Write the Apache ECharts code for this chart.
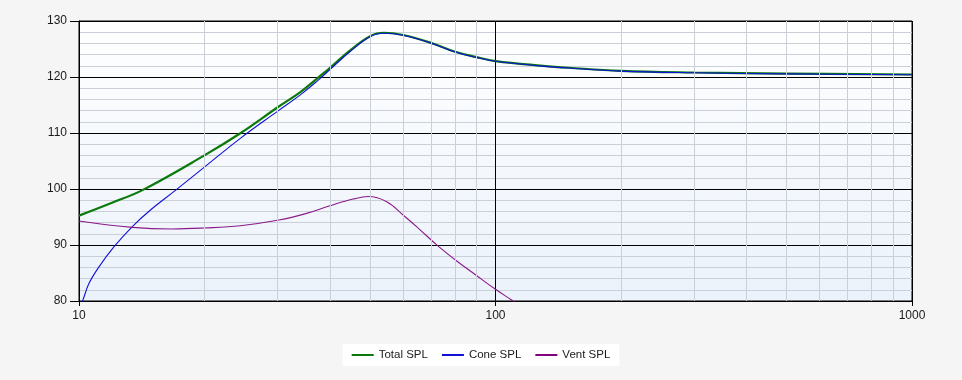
<!DOCTYPE html>
<html>
<head>
<meta charset="utf-8">
<script src="https://cdn.jsdelivr.net/npm/echarts@6/dist/echarts.min.js"></script>
<style>
html,body{margin:0;padding:0;background:#f5f5f5;}
#chart{width:962px;height:380px;}
</style>
</head>
<body>
<div id="chart"></div>
<script>
// ---- data ----
const seriesNames = ['Total SPL', 'Cone SPL', 'Vent SPL'];

const totalFreq = [10, 12, 14.2, 20, 24.4, 30, 34, 37.6, 40, 44.7, 50, 54, 60, 70, 80, 90, 100, 130, 150, 200, 300, 500, 1000];
const totalSPL  = [95.25, 97.55, 99.8, 106.0, 109.95, 114.6, 117.3, 119.95, 121.6, 124.7, 127.3, 127.9, 127.5, 126.1, 124.5, 123.55, 122.85, 122.0, 121.65, 121.1, 120.8, 120.6, 120.45];

const coneFreq = [10, 10.22, 10.57, 11.17, 12.14, 13.43, 14.87, 17.07, 20, 24.4, 30, 34, 37.6, 40, 44.7, 50, 54, 60, 70, 80, 90, 100, 130, 150, 200, 300, 500, 1000];
const coneSPL  = [78.6, 80.2, 83.15, 86.1, 89.7, 93.3, 96.3, 99.8, 103.9, 109.05, 113.9, 116.8, 119.5, 121.3, 124.5, 127.2, 127.8, 127.45, 126.05, 124.45, 123.5, 122.8, 121.95, 121.6, 121.05, 120.75, 120.55, 120.4];

const ventFreq = [10, 13.43, 16.74, 20, 24.4, 30.2, 35.2, 40, 45.5, 49.5, 54.8, 60, 65.3, 72.6, 80.7, 90, 100, 109.3, 118];
const ventSPL  = [94.3, 93.15, 92.86, 93.04, 93.45, 94.46, 95.65, 97.0, 98.2, 98.65, 97.73, 95.36, 92.98, 89.88, 87.14, 84.55, 82.09, 80.18, 78.5];

const minorGridFreqs = [20, 30, 40, 50, 60, 70, 80, 90, 200, 300, 400, 500, 600, 700, 800, 900];

function pairs(xs, ys) { return xs.map((x, i) => [x, ys[i]]); }

const chart = echarts.init(document.getElementById('chart'), null, {renderer: 'canvas'});
const font = "'Liberation Sans', Arial, sans-serif";

chart.setOption({
  animation: false,
  backgroundColor: '#f5f5f5',
  textStyle: {fontFamily: font},
  grid: {
    left: 79, right: 50, top: 21, bottom: 79, z: 0,
    show: true, borderColor: '#000', borderWidth: 1,
    backgroundColor: {
      type: 'linear', x: 0, y: 0, x2: 0, y2: 1,
      colorStops: [{offset: 0, color: '#ffffff'}, {offset: 1, color: '#ebf2fb'}]
    }
  },
  legend: {
    data: seriesNames,
    left: 'center', top: 344,
    backgroundColor: '#ffffff',
    padding: [5, 9],
    itemGap: 14, itemWidth: 22, itemHeight: 2,
    icon: 'rect',
    textStyle: {fontSize: 11.5, color: '#1a1a1a', fontFamily: font}
  },
  xAxis: {
    type: 'log', logBase: 10, min: 10, max: 1000, z: 1,
    axisLine: {show: true, lineStyle: {color: '#000', width: 1}},
    axisTick: {show: true, length: 5, lineStyle: {color: '#000'}},
    axisLabel: {color: '#1a1a1a', fontSize: 12, margin: 9, fontFamily: font,
                formatter: v => String(Math.round(v))},
    splitLine: {show: true, lineStyle: {color: '#000', width: 1}}
  },
  yAxis: {
    type: 'value', min: 80, max: 130, interval: 10, z: 1,
    axisLine: {show: true, lineStyle: {color: '#000', width: 1}},
    axisTick: {show: true, length: 9, lineStyle: {color: '#000'}},
    axisLabel: {color: '#1a1a1a', fontSize: 12, margin: 12, fontFamily: font},
    splitLine: {show: true, lineStyle: {color: '#000', width: 1}},
    minorTick: {show: false, splitNumber: 5},
    minorSplitLine: {show: true, lineStyle: {color: '#cbd0d8', width: 1}}
  },
  series: [
    {
      name: '_grid', type: 'line', data: [], z: 0.5, silent: true,
      markLine: {
        silent: true, symbol: ['none', 'none'], animation: false,
        label: {show: false},
        lineStyle: {color: '#cbd0d8', width: 1, type: 'solid'},
        emphasis: {disabled: true},
        data: minorGridFreqs.map(f => ({xAxis: f}))
      }
    },
    {
      name: seriesNames[0], type: 'line', data: pairs(totalFreq, totalSPL),
      showSymbol: false, smooth: 0.4, z: 2,
      lineStyle: {color: '#0a7a0a', width: 2.2}, itemStyle: {color: '#0a7a0a'}
    },
    {
      name: seriesNames[1], type: 'line', data: pairs(coneFreq, coneSPL),
      showSymbol: false, smooth: 0.4, z: 3,
      lineStyle: {color: '#1010d8', width: 1.1}, itemStyle: {color: '#1010d8'}
    },
    {
      name: seriesNames[2], type: 'line', data: pairs(ventFreq, ventSPL),
      showSymbol: false, smooth: 0.4, z: 3,
      lineStyle: {color: '#8a1a8a', width: 1.1}, itemStyle: {color: '#800080'}
    }
  ]
});
</script>
</body>
</html>
